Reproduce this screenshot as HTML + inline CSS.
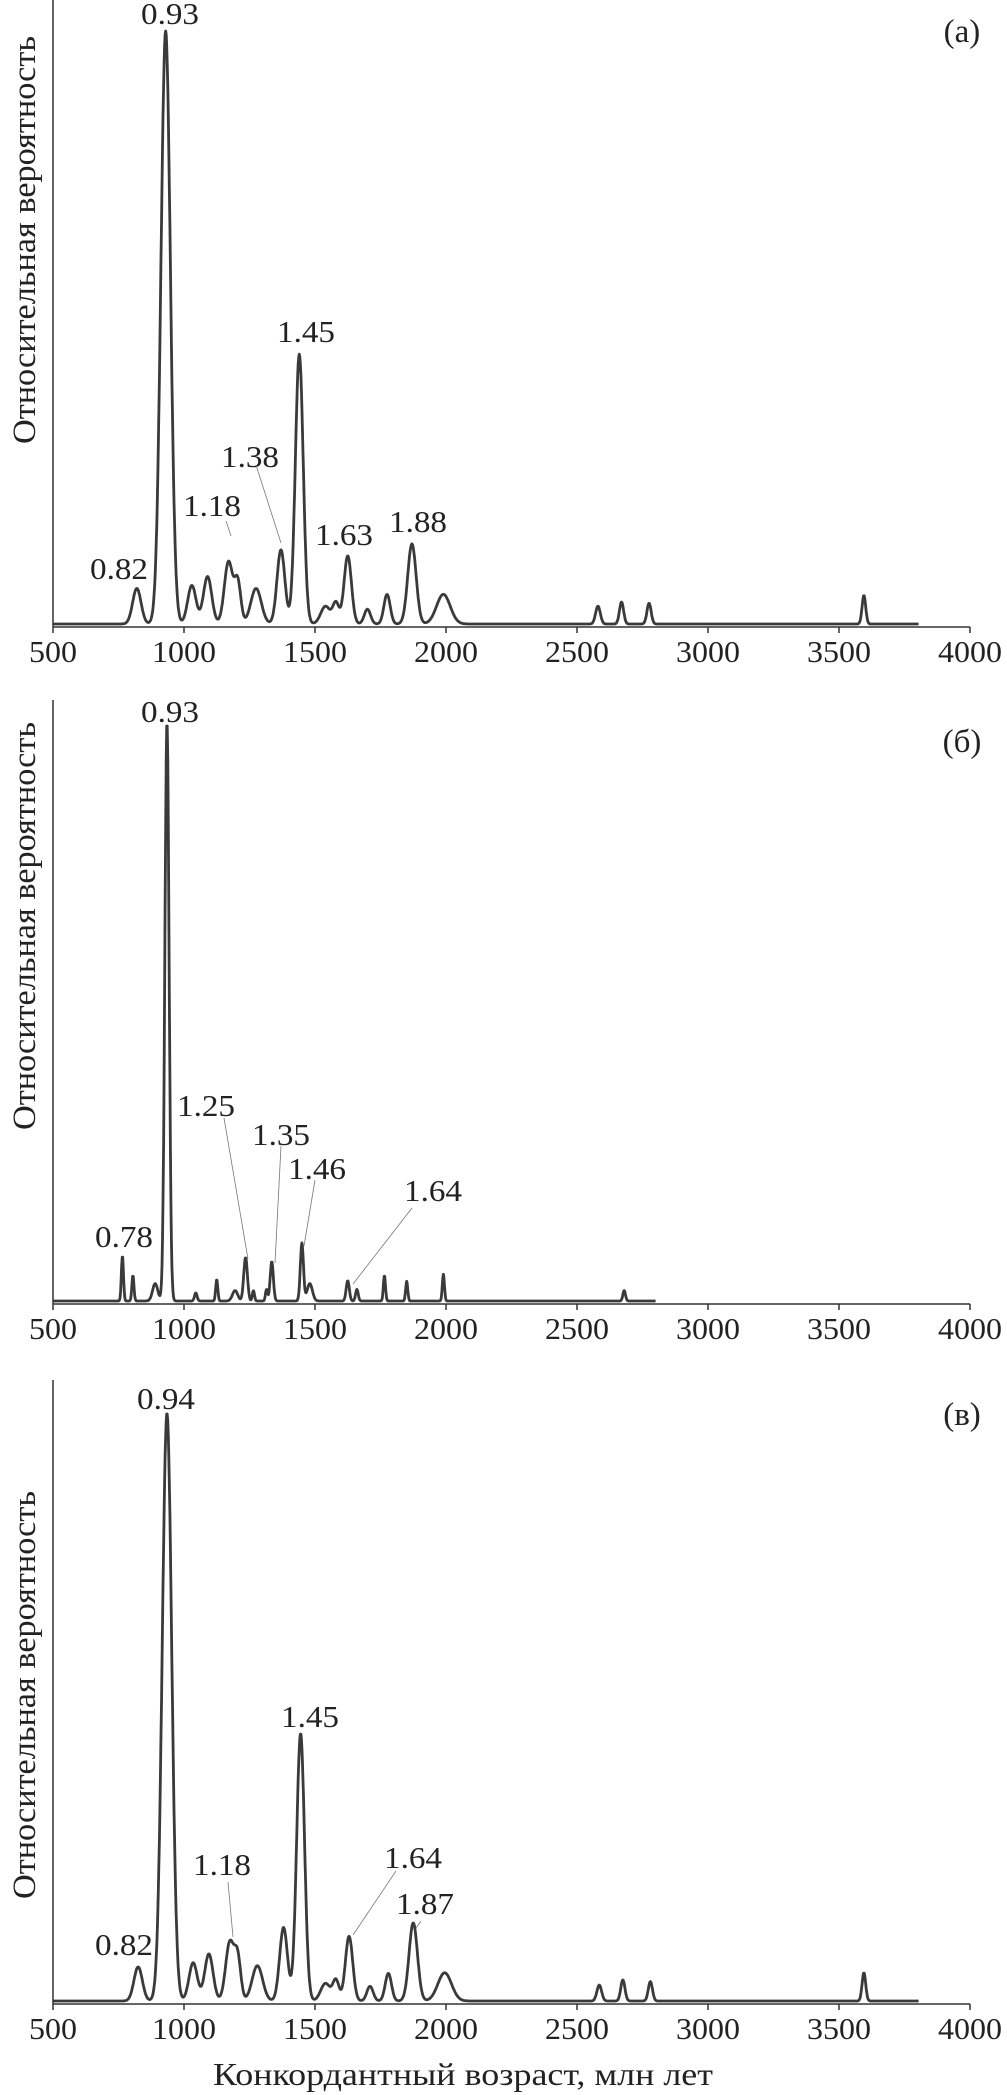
<!DOCTYPE html>
<html><head><meta charset="utf-8"><style>
html,body{margin:0;padding:0;background:#fff}
svg{display:block}
text{font-family:"Liberation Serif",serif;fill:#222}
</style></head><body>
<svg id="chart" width="1007" height="2095" viewBox="0 0 1007 2095" xmlns="http://www.w3.org/2000/svg"></svg>
<script>
const xTicks = [500,1000,1500,2000,2500,3000,3500,4000];
// panel a
const aCenters = [820,930,1030,1090,1170,1205,1275,1370,1440,1540,1580,1625,1700,1775,1870,1990,2580,2670,2775,3595];
const aAmps    = [0.06,1.0,0.065,0.08,0.105,0.07,0.06,0.125,0.455,0.03,0.035,0.115,0.025,0.05,0.135,0.05,0.03,0.037,0.035,0.048];
const aSigmas  = [16,18,16,16,16,12,20,15,15,18,12,14,12,12,16,26,9,8,8,7];
const aLabels = ["0.82","0.93","1.18","1.38","1.45","1.63","1.88"];
// panel b
const bCenters = [765,805,890,935,1045,1125,1195,1235,1265,1315,1335,1450,1480,1625,1660,1765,1850,1990,2680];
const bAmps    = [0.078,0.044,0.03,1.0,0.014,0.037,0.018,0.075,0.018,0.02,0.068,0.1,0.03,0.035,0.02,0.044,0.034,0.046,0.018];
const bSigmas  = [4,4,10,8,5,4,10,7,4,4,6,6,10,6,5,4,4,4,5];
const bLabels = ["0.93","0.78","1.25","1.35","1.46","1.64"];
// panel c
const cCenters = [825,935,1035,1095,1175,1205,1280,1380,1445,1540,1580,1630,1710,1780,1875,1995,2585,2675,2780,3595];
const cAmps    = [0.058,1.0,0.065,0.08,0.1,0.07,0.06,0.125,0.455,0.03,0.035,0.11,0.025,0.047,0.133,0.048,0.027,0.036,0.033,0.048];
const cSigmas  = [16,18,16,16,16,12,20,15,15,18,12,14,12,12,16,26,9,8,8,7];
const cLabels = ["0.82","0.94","1.18","1.45","1.64","1.87"];

const NS="http://www.w3.org/2000/svg";
const svg=document.getElementById('chart');
function el(t,a,p){const e=document.createElementNS(NS,t);for(const k in a)e.setAttribute(k,a[k]);(p||svg).appendChild(e);return e;}
const X0=53,X1=970;
function xs(a){return X0+(a-500)/3500*(X1-X0);}

function panel(id,top,base,peakY,centers,amps,sigmas,endAge,letter,letterY,titleY){
  const g=el('g',{});
  
  
  const ys=v=>base-v*(base-peakY);
  let pts=[];let max=0;const vals=[];
  for(let a=500;a<=endAge;a+=2){let v=0;for(let i=0;i<centers.length;i++){v+=amps[i]*Math.exp(-0.5*Math.pow((a-centers[i])/sigmas[i],2));}vals.push([a,v]);if(v>max)max=v;}
  for(const [a,v] of vals)pts.push(xs(a).toFixed(1)+','+ys(v/max).toFixed(1));
  const ln=el('polyline',{points:pts.join(' '),fill:'none',stroke:'#3a3a3a','stroke-width':2.8,'stroke-linejoin':'round'},g);
  
  
  const ya=el('line',{x1:X0,y1:top,x2:X0,y2:base+3,stroke:'#333','stroke-width':1.5},g);
  
  
  const xa=el('line',{x1:X0,y1:base+3,x2:X1,y2:base+3,stroke:'#333','stroke-width':1.5},g);
  
  
  for(const t of xTicks){
    const tk=el('line',{x1:xs(t),y1:base+3,x2:xs(t),y2:base+9,stroke:'#333','stroke-width':1.5},g);
    
    
    const s=String(t);
    const tl=el('text',{x:xs(t),y:base+38,'text-anchor':'middle','font-size':31,textLength:s.length*16,lengthAdjust:'spacingAndGlyphs'},g);
    tl.textContent=s;
    
    
  }
  const lt=el('text',{x:962,y:letterY,'text-anchor':'middle','font-size':33},g);
  lt.textContent=letter;
  
  
  const yt=el('text',{x:0,y:0,'text-anchor':'middle','font-size':33,textLength:408,lengthAdjust:'spacingAndGlyphs',transform:'translate(35,'+titleY+') rotate(-90)'},g);
  yt.textContent='Относительная вероятность';
  
  
  return g;
}
function label(txt,x,y,lx1,ly1,lx2,ly2){
  const t=el('text',{x:x,y:y+11,'text-anchor':'middle','font-size':31,textLength:58,lengthAdjust:'spacingAndGlyphs'});
  t.textContent=txt;
  
  
  if(lx1!==undefined){const l=el('line',{x1:lx1,y1:ly1,x2:lx2,y2:ly2,stroke:'#777','stroke-width':0.8});
    
    }
}
panel('a',0,624,31,aCenters,aAmps,aSigmas,3805,'(a)',42,240);
panel('b',700,1301,726,bCenters,bAmps,bSigmas,2800,'(б)',752,926);
panel('c',1380,2001,1414,cCenters,cAmps,cSigmas,3805,'(в)',1425,1695);
label(aLabels[0],119,568);
label(aLabels[1],170,13);
label(aLabels[2],212,505,226,521,231,536);
label(aLabels[3],250,456,256,465,281,543);
label(aLabels[4],306,331);
label(aLabels[5],344,534);
label(aLabels[6],418,521);
label(bLabels[0],170,711);
label(bLabels[1],124,1236);
label(bLabels[2],206,1105,224,1118,248,1259);
label(bLabels[3],281,1134,281,1146,275,1263);
label(bLabels[4],317,1168,315,1180,304,1246);
label(bLabels[5],433,1190,412,1208,353,1284);
label(cLabels[0],124,1944);
label(cLabels[1],166,1398);
label(cLabels[2],222,1864,228,1882,233,1937);
label(cLabels[3],310,1716);
label(cLabels[4],413,1857,396,1871,353,1935);
label(cLabels[5],425,1903,421,1921,416,1928);
const xt=el('text',{x:463,y:2085,'text-anchor':'middle','font-size':32,textLength:500,lengthAdjust:'spacingAndGlyphs'});
xt.textContent='Конкордантный возраст, млн лет';


</script>
</body></html>
